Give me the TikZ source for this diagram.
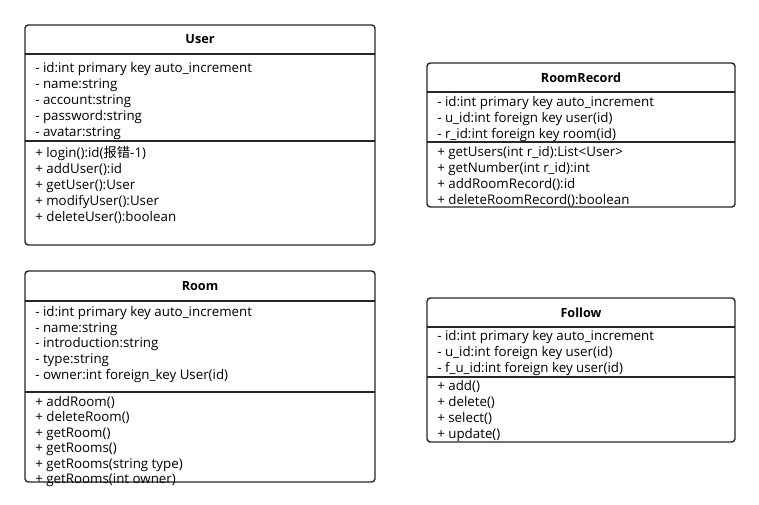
\documentclass[tikz,border=0pt]{standalone}
\usepackage{fontspec}
\setmainfont{Open Sans}
\newfontfamily\cjk{Noto Sans CJK SC}
\usetikzlibrary{positioning}
\tikzset{
    %Define style for class frames
    classframe/.style={
           draw=black!85, line width=1.1pt,
           rounded corners=2.5pt},
    % separator lines between compartments
    classsep/.style={
           draw=black!85, line width=1.1pt},
    % class name
    classtitle/.style={
           font=\fontsize{9.5}{12}\selectfont\bfseries,
           inner sep=0pt},
    % attributes and methods
    classpart/.style={
           anchor=north west,
           inner sep=0pt,
           align=left,
           font=\fontsize{10}{12}\selectfont}
}
\begin{document}
\begin{tikzpicture}[x=0.75pt, y=-0.75pt]
	\useasboundingbox (0,0) rectangle (759,505);
	%
	% User
	%
	\draw[classframe] (25,25) rectangle (375,245);
	\draw[classsep] (25,54) -- (375,54);
	\draw[classsep] (25,141) -- (375,141);
	\node[classtitle] (user) at (200,39.5) {User};
	\node[classpart] (userattr) at (35,61.7) {- id:int primary key auto\_increment\\- name:string\\- account:string\\- password:string\\- avatar:string};
	\node[classpart] (usermeth) at (35,146.2) {+ login():id({\cjk 报错}-1)\\+ addUser():id\\+ getUser():User\\+ modifyUser():User\\+ deleteUser():boolean};
	%
	% RoomRecord
	%
	\draw[classframe] (427,63) rectangle (735,207);
	\draw[classsep] (427,92) -- (735,92);
	\draw[classsep] (427,142) -- (735,142);
	\node[classtitle] (record) at (581,77.5) {RoomRecord};
	\node[classpart] (recordattr) at (437,96.3) {- id:int primary key auto\_increment\\- u\_id:int foreign key user(id)\\- r\_id:int foreign key room(id)};
	\node[classpart] (recordmeth) at (437,145.7) {+ getUsers(int r\_id):List<User>\\+ getNumber(int r\_id):int\\+ addRoomRecord():id\\+ deleteRoomRecord():boolean};
	%
	% Room
	%
	\draw[classframe] (25,271) rectangle (375,482);
	\draw[classsep] (25,301) -- (375,301);
	\draw[classsep] (25,392) -- (375,392);
	\node[classtitle] (room) at (200,286) {Room};
	\node[classpart, font=\fontsize{10}{11.75}\selectfont] (roomattr) at (35,306) {- id:int primary key auto\_increment\\- name:string\\- introduction:string\\- type:string\\- owner:int foreign\_key User(id)};
	\node[classpart, font=\fontsize{10}{11.6}\selectfont] (roommeth) at (35,396) {+ addRoom()\\+ deleteRoom()\\+ getRoom()\\+ getRooms()\\+ getRooms(string type)\\+ getRooms(int owner)};
	%
	% Follow
	%
	\draw[classframe] (427,298) rectangle (735,442);
	\draw[classsep] (427,327) -- (735,327);
	\draw[classsep] (427,377) -- (735,377);
	\node[classtitle] (follow) at (581,312.5) {Follow};
	\node[classpart] (followattr) at (437,330.3) {- id:int primary key auto\_increment\\- u\_id:int foreign key user(id)\\- f\_u\_id:int foreign key user(id)};
	\node[classpart] (followmeth) at (437,380.3) {+ add()\\+ delete()\\+ select()\\+ update()};
\end{tikzpicture}
\end{document}
